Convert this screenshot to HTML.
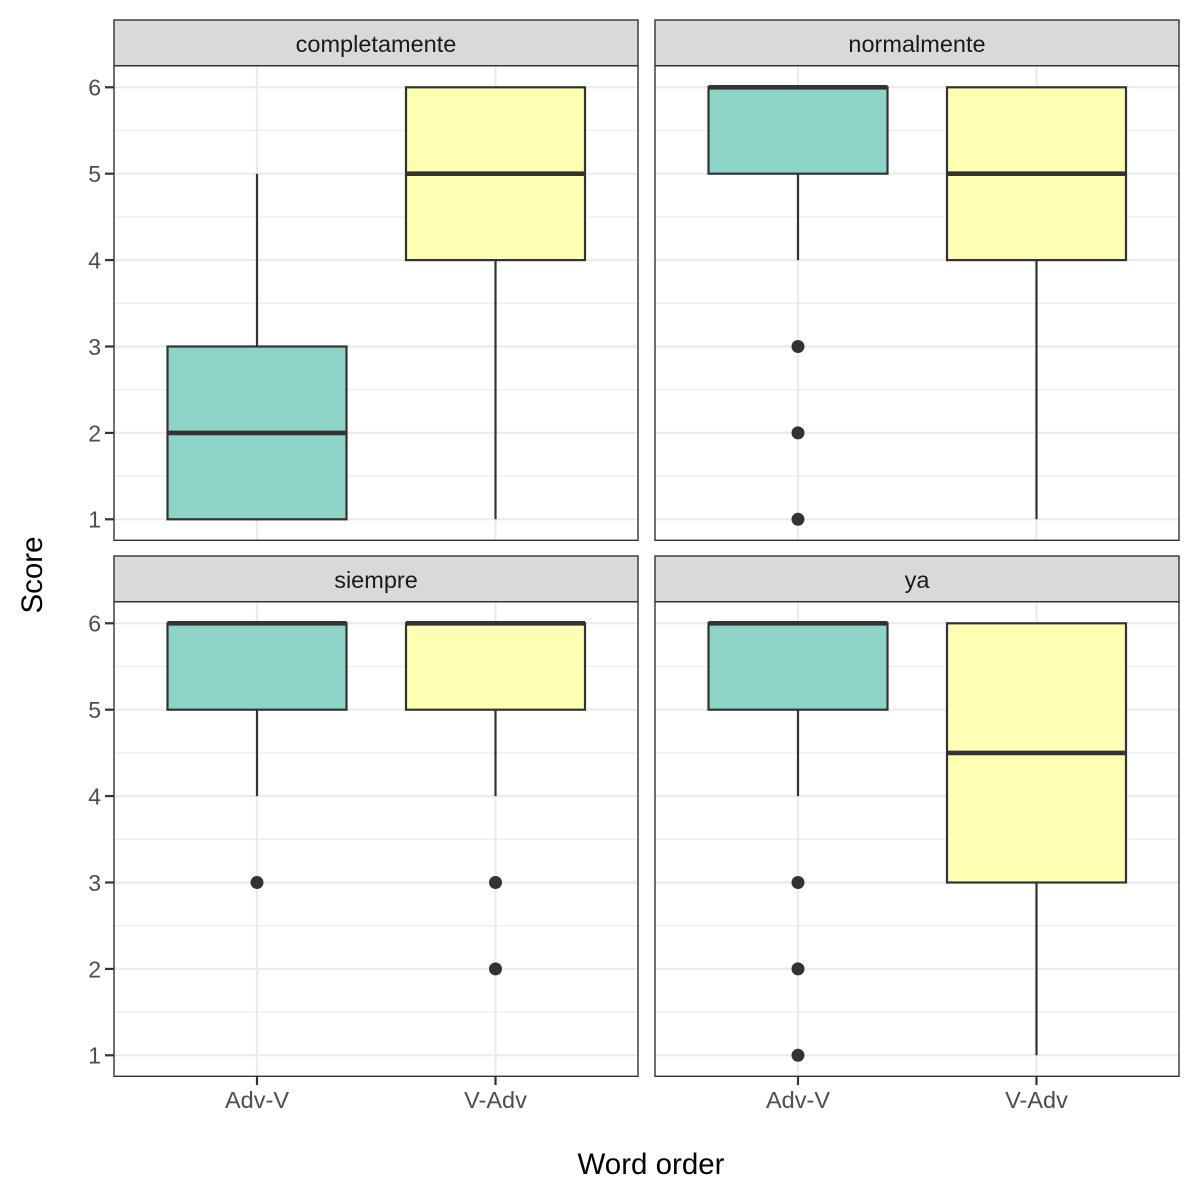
<!DOCTYPE html>
<html>
<head>
<meta charset="utf-8">
<style>
html,body{margin:0;padding:0;background:#fff;}
svg{display:block;}
text{font-family:"Liberation Sans",Arial,sans-serif;}
</style>
</head>
<body>
<svg width="1200" height="1194" viewBox="0 0 1200 1194" xmlns="http://www.w3.org/2000/svg">
<rect x="0" y="0" width="1200" height="1194" fill="#fff"/>
<defs>
  <g id="grid">
    <rect x="114" y="65.7" width="524" height="474.6" fill="#fff"/>
    <g stroke="#EBEBEB" stroke-width="1.1">
      <line x1="114" x2="638" y1="130.5" y2="130.5"/>
      <line x1="114" x2="638" y1="216.9" y2="216.9"/>
      <line x1="114" x2="638" y1="303.3" y2="303.3"/>
      <line x1="114" x2="638" y1="389.7" y2="389.7"/>
      <line x1="114" x2="638" y1="476.1" y2="476.1"/>
    </g>
    <g stroke="#EBEBEB" stroke-width="2.2">
      <line x1="114" x2="638" y1="87.3" y2="87.3"/>
      <line x1="114" x2="638" y1="173.7" y2="173.7"/>
      <line x1="114" x2="638" y1="260.1" y2="260.1"/>
      <line x1="114" x2="638" y1="346.5" y2="346.5"/>
      <line x1="114" x2="638" y1="432.9" y2="432.9"/>
      <line x1="114" x2="638" y1="519.3" y2="519.3"/>
      <line x1="257" x2="257" y1="65.7" y2="540.3"/>
      <line x1="495.5" x2="495.5" y1="65.7" y2="540.3"/>
    </g>
  </g>
  <g id="frame">
    <rect x="114" y="65.7" width="524" height="474.6" fill="none" stroke="#333" stroke-width="1.4"/>
    <rect x="114" y="20" width="524" height="45.7" fill="#D9D9D9" stroke="#333" stroke-width="1.4"/>
  </g>
</defs>

<!-- Panel 1: completamente (top-left) -->
<g>
  <use href="#grid"/>
  <g stroke="#333" stroke-width="2.2">
    <!-- Adv-V -->
    <line x1="257" x2="257" y1="173.7" y2="346.5"/>
    <rect x="167.5" y="346.5" width="179" height="172.8" fill="#8DD3C7"/>
    <line x1="167.5" x2="346.5" y1="432.9" y2="432.9" stroke-width="4.6"/>
    <!-- V-Adv -->
    <line x1="495.5" x2="495.5" y1="260.1" y2="519.3"/>
    <rect x="406" y="87.3" width="179" height="172.8" fill="#FFFFB3"/>
    <line x1="406" x2="585" y1="173.7" y2="173.7" stroke-width="4.6"/>
  </g>
  <use href="#frame"/>
  <text x="376" y="52" font-size="23.5" fill="#1A1A1A" text-anchor="middle">completamente</text>
</g>

<!-- Panel 2: normalmente (top-right) -->
<g transform="translate(541,0)">
  <use href="#grid"/>
  <g stroke="#333" stroke-width="2.2">
    <line x1="257" x2="257" y1="173.7" y2="260.1"/>
    <rect x="167.5" y="87.3" width="179" height="86.4" fill="#8DD3C7"/>
    <line x1="167.5" x2="346.5" y1="87.3" y2="87.3" stroke-width="4.6"/>
    <line x1="495.5" x2="495.5" y1="260.1" y2="519.3"/>
    <rect x="406" y="87.3" width="179" height="172.8" fill="#FFFFB3"/>
    <line x1="406" x2="585" y1="173.7" y2="173.7" stroke-width="4.6"/>
  </g>
  <g fill="#333">
    <circle cx="257" cy="346.5" r="6.5"/>
    <circle cx="257" cy="432.9" r="6.5"/>
    <circle cx="257" cy="519.3" r="6.5"/>
  </g>
  <use href="#frame"/>
  <text x="376" y="52" font-size="23.5" fill="#1A1A1A" text-anchor="middle">normalmente</text>
</g>

<!-- Panel 3: siempre (bottom-left) -->
<g transform="translate(0,536)">
  <use href="#grid"/>
  <g stroke="#333" stroke-width="2.2">
    <line x1="257" x2="257" y1="173.7" y2="260.1"/>
    <rect x="167.5" y="87.3" width="179" height="86.4" fill="#8DD3C7"/>
    <line x1="167.5" x2="346.5" y1="87.3" y2="87.3" stroke-width="4.6"/>
    <line x1="495.5" x2="495.5" y1="173.7" y2="260.1"/>
    <rect x="406" y="87.3" width="179" height="86.4" fill="#FFFFB3"/>
    <line x1="406" x2="585" y1="87.3" y2="87.3" stroke-width="4.6"/>
  </g>
  <g fill="#333">
    <circle cx="257" cy="346.5" r="6.5"/>
    <circle cx="495.5" cy="346.5" r="6.5"/>
    <circle cx="495.5" cy="432.9" r="6.5"/>
  </g>
  <use href="#frame"/>
  <text x="376" y="52" font-size="23.5" fill="#1A1A1A" text-anchor="middle">siempre</text>
</g>

<!-- Panel 4: ya (bottom-right) -->
<g transform="translate(541,536)">
  <use href="#grid"/>
  <g stroke="#333" stroke-width="2.2">
    <line x1="257" x2="257" y1="173.7" y2="260.1"/>
    <rect x="167.5" y="87.3" width="179" height="86.4" fill="#8DD3C7"/>
    <line x1="167.5" x2="346.5" y1="87.3" y2="87.3" stroke-width="4.6"/>
    <line x1="495.5" x2="495.5" y1="346.5" y2="519.3"/>
    <rect x="406" y="87.3" width="179" height="259.2" fill="#FFFFB3"/>
    <line x1="406" x2="585" y1="216.9" y2="216.9" stroke-width="4.6"/>
  </g>
  <g fill="#333">
    <circle cx="257" cy="346.5" r="6.5"/>
    <circle cx="257" cy="432.9" r="6.5"/>
    <circle cx="257" cy="519.3" r="6.5"/>
  </g>
  <use href="#frame"/>
  <text x="376" y="52" font-size="23.5" fill="#1A1A1A" text-anchor="middle">ya</text>
</g>

<!-- Y axis ticks and labels (top) -->
<g stroke="#333" stroke-width="2.2">
  <line x1="105" x2="114" y1="87.3" y2="87.3"/>
  <line x1="105" x2="114" y1="173.7" y2="173.7"/>
  <line x1="105" x2="114" y1="260.1" y2="260.1"/>
  <line x1="105" x2="114" y1="346.5" y2="346.5"/>
  <line x1="105" x2="114" y1="432.9" y2="432.9"/>
  <line x1="105" x2="114" y1="519.3" y2="519.3"/>
  <line x1="105" x2="114" y1="623.3" y2="623.3"/>
  <line x1="105" x2="114" y1="709.7" y2="709.7"/>
  <line x1="105" x2="114" y1="796.1" y2="796.1"/>
  <line x1="105" x2="114" y1="882.5" y2="882.5"/>
  <line x1="105" x2="114" y1="968.9" y2="968.9"/>
  <line x1="105" x2="114" y1="1055.3" y2="1055.3"/>
  <!-- x ticks -->
  <line x1="257" x2="257" y1="1076.7" y2="1085"/>
  <line x1="495.5" x2="495.5" y1="1076.7" y2="1085"/>
  <line x1="798" x2="798" y1="1076.7" y2="1085"/>
  <line x1="1036.5" x2="1036.5" y1="1076.7" y2="1085"/>
</g>
<g font-size="23" fill="#4D4D4D" text-anchor="end">
  <text x="101" y="95.7">6</text>
  <text x="101" y="182.1">5</text>
  <text x="101" y="268.5">4</text>
  <text x="101" y="354.9">3</text>
  <text x="101" y="441.3">2</text>
  <text x="101" y="527.7">1</text>
  <text x="101" y="631.7">6</text>
  <text x="101" y="718.1">5</text>
  <text x="101" y="804.5">4</text>
  <text x="101" y="890.9">3</text>
  <text x="101" y="977.3">2</text>
  <text x="101" y="1063.7">1</text>
</g>
<g font-size="23.5" fill="#4D4D4D" text-anchor="middle">
  <text x="257" y="1108">Adv-V</text>
  <text x="495.5" y="1108">V-Adv</text>
  <text x="798" y="1108">Adv-V</text>
  <text x="1036.5" y="1108">V-Adv</text>
</g>
<text x="651" y="1174" font-size="29.5" fill="#000" text-anchor="middle">Word order</text>
<text transform="translate(42,575) rotate(-90)" font-size="29.5" fill="#000" text-anchor="middle">Score</text>
</svg>
</body>
</html>
